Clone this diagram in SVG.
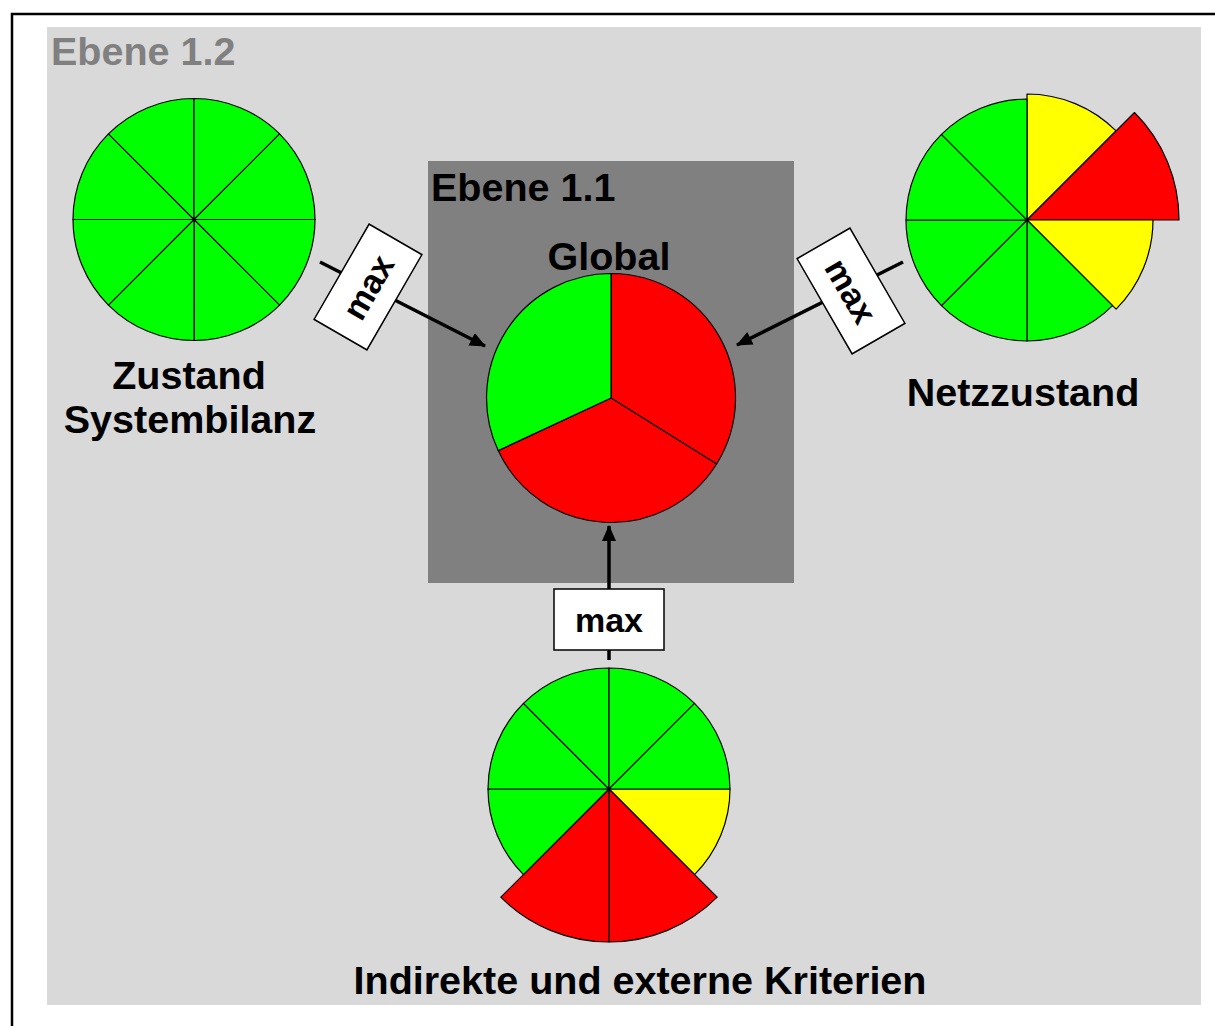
<svg xmlns="http://www.w3.org/2000/svg" width="1215" height="1026" viewBox="0 0 1215 1026">
  <style>
    .lbl { font-family: "Liberation Sans", Arial, sans-serif; font-weight: bold; font-size: 39.5px; fill: #000; }
    .lvl2 { fill: #808080; }
    .op { font-family: "Liberation Sans", Arial, sans-serif; font-weight: bold; font-size: 34px; fill: #000; text-anchor: middle; }
    .opbox { fill: #fff; stroke: #000; stroke-width: 1.5; }
    .seg { stroke: #000; stroke-width: 1.2; stroke-linejoin: round; }
    .g { fill: #00ff00; }
    .r { fill: #ff0000; }
    .y { fill: #ffff00; }
    .wire { stroke: #000; stroke-width: 3.5; fill: none; }
  </style>
  <defs>
    <marker id="tip" markerUnits="userSpaceOnUse" markerWidth="16" markerHeight="16" viewBox="0 0 16 16" refX="15" refY="8" orient="auto">
      <path d="M0,1 L16,8 L0,15 Z" fill="#000"/>
    </marker>
  </defs>

  <!-- outer frame -->
  <rect x="0" y="0" width="1215" height="1026" fill="#fff"/>
  <path d="M12,1026 L12,14 L1215,14" fill="none" stroke="#000" stroke-width="2.5"/>

  <!-- level 1.2 area -->
  <g id="ebene-1-2">
    <rect x="47" y="27" width="1154" height="978" fill="#d9d9d9"/>
    <text class="lbl lvl2" x="51" y="65">Ebene 1.2</text>
  </g>

  <!-- level 1.1 area -->
  <g id="ebene-1-1">
    <rect x="428" y="161" width="366" height="422" fill="#808080"/>
    <text class="lbl" x="431" y="201">Ebene 1.1</text>
  </g>

  <!-- connectors -->
  <g id="connectors">
    <line class="wire" x1="320" y1="262" x2="485" y2="346" marker-end="url(#tip)"/>
    <line class="wire" x1="903" y1="262" x2="737" y2="345" marker-end="url(#tip)"/>
    <line class="wire" x1="609" y1="660" x2="609" y2="526" marker-end="url(#tip)"/>
  </g>

  <!-- max operators -->
  <g id="max-left" transform="translate(368,287) rotate(-60)">
    <rect class="opbox" x="-55" y="-30.5" width="110" height="61"/>
    <text class="op" x="0" y="12">max</text>
  </g>
  <g id="max-right" transform="translate(851,291) rotate(60)">
    <rect class="opbox" x="-55" y="-30.5" width="110" height="61"/>
    <text class="op" x="0" y="12">max</text>
  </g>
  <g id="max-bottom" transform="translate(609,619.5)">
    <rect class="opbox" x="-55" y="-30.5" width="110" height="61"/>
    <text class="op" x="0" y="12">max</text>
  </g>

  <!-- global state -->
  <g id="global">
    <text class="lbl" x="609" y="270" text-anchor="middle">Global</text>
    <path class="seg r" d="M611,398 L611,273.5 A124.5,124.5 0 0 1 716.6,464 Z"/>
    <path class="seg r" d="M611,398 L716.6,464 A124.5,124.5 0 0 1 498.2,450.6 Z"/>
    <path class="seg g" d="M611,398 L498.2,450.6 A124.5,124.5 0 0 1 611,273.5 Z"/>
  </g>

  <!-- system balance state -->
  <g id="zustand-systembilanz">
    <path class="seg g" d="M194,219.5 L315,219.5 A121,121 0 0 1 279.56,305.06 Z"/>
    <path class="seg g" d="M194,219.5 L279.56,305.06 A121,121 0 0 1 194,340.5 Z"/>
    <path class="seg g" d="M194,219.5 L194,340.5 A121,121 0 0 1 108.44,305.06 Z"/>
    <path class="seg g" d="M194,219.5 L108.44,305.06 A121,121 0 0 1 73,219.5 Z"/>
    <path class="seg g" d="M194,219.5 L73,219.5 A121,121 0 0 1 108.44,133.94 Z"/>
    <path class="seg g" d="M194,219.5 L108.44,133.94 A121,121 0 0 1 194,98.5 Z"/>
    <path class="seg g" d="M194,219.5 L194,98.5 A121,121 0 0 1 279.56,133.94 Z"/>
    <path class="seg g" d="M194,219.5 L279.56,133.94 A121,121 0 0 1 315,219.5 Z"/>
    <text class="lbl" x="189" y="389" text-anchor="middle">Zustand</text>
    <text class="lbl" x="190" y="433" text-anchor="middle">Systembilanz</text>
  </g>

  <!-- grid state -->
  <g id="netzzustand">
    <path class="seg y" d="M1027,220 L1027,94 A126,126 0 0 1 1116.1,130.9 Z"/>
    <path class="seg r" d="M1027,220 L1134.48,112.52 A152,152 0 0 1 1179,220 Z"/>
    <path class="seg y" d="M1027,220 L1153,220 A126,126 0 0 1 1116.1,309.1 Z"/>
    <path class="seg g" d="M1027,220 L1112.56,305.56 A121,121 0 0 1 1027,341 Z"/>
    <path class="seg g" d="M1027,220 L1027,341 A121,121 0 0 1 941.44,305.56 Z"/>
    <path class="seg g" d="M1027,220 L941.44,305.56 A121,121 0 0 1 906,220 Z"/>
    <path class="seg g" d="M1027,220 L906,220 A121,121 0 0 1 941.44,134.44 Z"/>
    <path class="seg g" d="M1027,220 L941.44,134.44 A121,121 0 0 1 1027,99 Z"/>
    <text class="lbl" x="1023" y="406" text-anchor="middle">Netzzustand</text>
  </g>

  <!-- indirect and external criteria -->
  <g id="indirekte-kriterien">
    <path class="seg y" d="M609,789 L730,789 A121,121 0 0 1 694.56,874.56 Z"/>
    <path class="seg r" d="M609,789 L717.19,897.19 A153,153 0 0 1 609,942 Z"/>
    <path class="seg r" d="M609,789 L609,942 A153,153 0 0 1 500.81,897.19 Z"/>
    <path class="seg g" d="M609,789 L523.44,874.56 A121,121 0 0 1 488,789 Z"/>
    <path class="seg g" d="M609,789 L488,789 A121,121 0 0 1 523.44,703.44 Z"/>
    <path class="seg g" d="M609,789 L523.44,703.44 A121,121 0 0 1 609,668 Z"/>
    <path class="seg g" d="M609,789 L609,668 A121,121 0 0 1 694.56,703.44 Z"/>
    <path class="seg g" d="M609,789 L694.56,703.44 A121,121 0 0 1 730,789 Z"/>
    <text class="lbl" x="640" y="994" text-anchor="middle">Indirekte und externe Kriterien</text>
  </g>
</svg>
